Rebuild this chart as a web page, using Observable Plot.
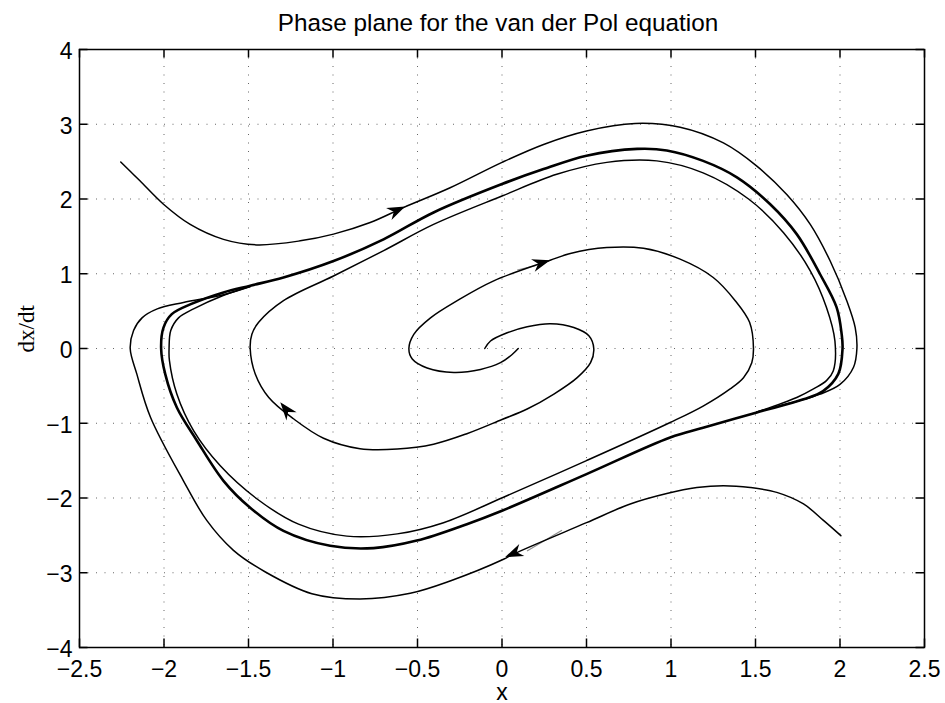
<!DOCTYPE html>
<html>
<head>
<meta charset="utf-8">
<script src="https://cdn.jsdelivr.net/npm/d3@7"></script>
<script src="https://cdn.jsdelivr.net/npm/@observablehq/plot@0.6"></script>
<style>
  html, body { margin: 0; padding: 0; background: #fff; }
</style>
</head>
<body>
<div id="chart"></div>
<script>
// Phase-plane trajectories of the van der Pol oscillator (x, dx/dt)

const titleText = "Phase plane for the van der Pol equation";
const xLabel = "x";
const yLabel = "dx/dt";

const xTicks = [-2.5, -2, -1.5, -1, -0.5, 0, 0.5, 1, 1.5, 2, 2.5];
const xTickLabels = ["−2.5", "−2", "−1.5", "−1", "−0.5", "0", "0.5", "1", "1.5", "2", "2.5"];
const yTicks = [-4, -3, -2, -1, 0, 1, 2, 3, 4];
const yTickLabels = ["−4", "−3", "−2", "−1", "0", "1", "2", "3", "4"];

// Spiral starting just left of the origin
const spiralLeft = [
  [-0.102, 0.0], [-0.068, 0.10], [0.031, 0.21], [0.149, 0.29], [0.287, 0.33],
  [0.425, 0.28], [0.514, 0.17], [0.543, 0.0], [0.524, -0.19], [0.445, -0.39],
  [0.307, -0.61], [0.149, -0.81], [0.0, -0.95], [-0.208, -1.14], [-0.405, -1.28],
  [-0.62, -1.345], [-0.84, -1.34], [-1.056, -1.20], [-1.234, -0.94], [-1.38, -0.655],
  [-1.46, -0.34], [-1.49, 0.0], [-1.48, 0.19], [-1.44, 0.35], [-1.293, 0.64],
  [-0.997, 0.97], [-0.70, 1.31], [-0.405, 1.66], [0.0, 2.04], [0.324, 2.33],
  [0.62, 2.49], [0.916, 2.51], [1.19, 2.35], [1.459, 2.0], [1.666, 1.55],
  [1.824, 1.04], [1.92, 0.55], [1.97, 0.10], [1.96, -0.30], [1.92, -0.43],
  [1.843, -0.54], [1.744, -0.655], [1.508, -0.85]
];

// Spiral starting just right of the origin
const spiralRight = [
  [0.096, 0.0], [0.06, -0.08], [-0.009, -0.19], [-0.127, -0.28], [-0.285, -0.32],
  [-0.443, -0.26], [-0.531, -0.14], [-0.551, 0.0], [-0.522, 0.19], [-0.423, 0.41],
  [-0.265, 0.64], [-0.049, 0.905], [0.285, 1.18], [0.404, 1.27], [0.62, 1.35],
  [0.837, 1.34], [1.054, 1.195], [1.25, 0.95], [1.38, 0.64], [1.465, 0.35],
  [1.488, 0.0], [1.478, -0.19], [1.429, -0.39], [1.35, -0.54], [1.19, -0.77],
  [0.995, -0.99], [0.50, -1.50], [0.009, -1.99], [-0.346, -2.33], [-0.62, -2.48],
  [-0.918, -2.51], [-1.204, -2.35], [-1.451, -2.01], [-1.667, -1.57], [-1.825, -1.10],
  [-1.924, -0.61], [-1.968, -0.16], [-1.97, 0.0], [-1.96, 0.24], [-1.914, 0.41],
  [-1.825, 0.53], [-1.65, 0.71], [-1.49, 0.83]
];

// Trajectory entering from the upper left
const outerUpper = [
  [-2.256, 2.496], [-2.20, 2.37], [-2.141, 2.24], [-2.003, 1.93], [-1.845, 1.66], [-1.648, 1.46],
  [-1.451, 1.386], [-1.194, 1.44], [-0.997, 1.53], [-0.78, 1.685], [-0.583, 1.885],
  [-0.307, 2.15], [0.0, 2.49], [0.246, 2.73], [0.50, 2.91], [0.788, 3.01],
  [1.054, 2.96], [1.31, 2.75], [1.508, 2.44], [1.685, 2.06], [1.824, 1.66],
  [1.942, 1.17], [2.04, 0.64], [2.09, 0.28], [2.10, 0.0], [2.08, -0.25],
  [2.00, -0.48], [1.883, -0.61], [1.725, -0.72], [1.508, -0.85]
];

// Trajectory entering from the lower right
const outerLower = [
  [2.005, -2.504], [1.902, -2.30], [1.784, -2.08], [1.626, -1.925], [1.469, -1.86],
  [1.31, -1.835], [1.153, -1.86], [0.975, -1.94], [0.759, -2.08], [0.50, -2.33],
  [0.068, -2.75], [0.009, -2.82], [-0.307, -3.11], [-0.543, -3.275], [-0.84, -3.35],
  [-1.125, -3.28], [-1.40, -2.99], [-1.589, -2.70], [-1.747, -2.30], [-1.885, -1.77],
  [-2.08, -0.92], [-2.161, -0.34], [-2.2, 0.0], [-2.18, 0.24], [-2.13, 0.41],
  [-2.04, 0.53], [-1.885, 0.615], [-1.648, 0.72], [-1.49, 0.83]
];

// Limit cycle that all trajectories settle onto
const limitCycle = [
  [-2.017, 0.0], [-2.003, 0.28], [-1.954, 0.46], [-1.845, 0.59], [-1.648, 0.75],
  [-1.49, 0.84], [-1.293, 0.95], [-0.997, 1.17], [-0.701, 1.46], [-0.405, 1.82],
  [0.0, 2.2], [0.246, 2.40], [0.50, 2.58], [0.80, 2.67], [0.975, 2.65],
  [1.19, 2.51], [1.39, 2.29], [1.587, 1.93], [1.744, 1.53], [1.883, 0.99],
  [1.98, 0.55], [2.01, 0.19], [2.015, 0.0], [1.99, -0.34], [1.90, -0.57],
  [1.784, -0.68], [1.508, -0.855], [1.19, -1.06], [0.995, -1.19], [0.50, -1.68],
  [0.0, -2.17], [-0.208, -2.35], [-0.504, -2.57], [-0.76, -2.67], [-1.017, -2.64],
  [-1.293, -2.44], [-1.49, -2.13], [-1.648, -1.77], [-1.806, -1.23], [-1.924, -0.79],
  [-1.993, -0.34]
];

// Direction arrows: tip position and a point just behind it on the curve
const arrowTipX = [-0.573, 0.285, -1.312, 0.019];
const arrowTipY = [1.90, 1.18, -0.72, -2.79];
const arrowFromX = [-0.78, 0.009, -1.234, 0.50];
const arrowFromY = [1.685, 0.995, -0.94, -2.33];

// Faint arrow shafts that sit just beside two of the curves
const shaftFromX = [0.09, 0.355];
const shaftFromY = [1.05, -2.43];
const shaftToX = [0.20, 0.148];
const shaftToY = [1.11, -2.71];

const W = 945, H = 703;
const mL = 79, mR = 21, mT = 49, mB = 56;
const plotW = W - mL - mR, plotH = H - mT - mB;
const xDomain = [-2.5, 2.5], yDomain = [-4, 4];
const tickLen = 8.5;

const toRows = (pts, name) => pts.map(([x, y]) => ({x, y, name}));
const trajectories = [
  ...toRows(spiralLeft, "spiralLeft"),
  ...toRows(spiralRight, "spiralRight"),
  ...toRows(outerUpper, "outerUpper"),
  ...toRows(outerLower, "outerLower")
];
const cycleRows = toRows(limitCycle, "cycle");
const shafts = shaftFromX.map((x, i) => ({x1: x, y1: shaftFromY[i], x2: shaftToX[i], y2: shaftToY[i]}));

// Screen-space direction of each arrowhead
const kx = plotW / (xDomain[1] - xDomain[0]);
const ky = plotH / (yDomain[1] - yDomain[0]);
const arrows = arrowTipX.map((x, i) => {
  const dx = (x - arrowFromX[i]) * kx;
  const dy = -(arrowTipY[i] - arrowFromY[i]) * ky;
  return {x, y: arrowTipY[i], angle: Math.atan2(dy, dx) * 180 / Math.PI};
});

// Notched arrowhead with its tip at the origin, pointing along +x
const arrowHead = {
  draw(context) {
    const L = 18, w = 6.5, n = 12.5;
    context.moveTo(0, 0);
    context.lineTo(-L, -w);
    context.lineTo(-n, 0);
    context.lineTo(-L, w);
    context.closePath();
  }
};

const gridX = xTicks.slice(1, -1);
const gridY = yTicks.slice(1, -1);
const sans = "'Liberation Sans', Arial, Helvetica, sans-serif";
const serif = "'Liberation Serif', 'DejaVu Serif', serif";

const chart = Plot.plot({
  width: W,
  height: H,
  marginLeft: mL,
  marginRight: mR,
  marginTop: mT,
  marginBottom: mB,
  style: {fontFamily: sans, fontSize: "23px", background: "#fff", color: "#000"},
  x: {domain: xDomain, axis: null},
  y: {domain: yDomain, axis: null},
  marks: [
    Plot.ruleX(gridX, {x: d => d, stroke: "#000", strokeOpacity: 0.6, strokeWidth: 1, strokeDasharray: "1,7.5"}),
    Plot.ruleY(gridY, {y: d => d, stroke: "#000", strokeOpacity: 0.6, strokeWidth: 1, strokeDasharray: "1,7.5"}),
    Plot.link(shafts, {x1: "x1", y1: "y1", x2: "x2", y2: "y2", stroke: "#000", strokeOpacity: 0.45, strokeWidth: 1.2}),
    Plot.line(cycleRows, {x: "x", y: "y", curve: "catmull-rom-closed", stroke: "#000", strokeWidth: 2.6}),
    Plot.line(trajectories, {x: "x", y: "y", z: "name", curve: "catmull-rom", stroke: "#000", strokeWidth: 1.5}),
    Plot.dot(arrows, {x: "x", y: "y", rotate: "angle", symbol: arrowHead, fill: "#000", stroke: "none"}),
    Plot.frame({stroke: "#000", strokeWidth: 1.5}),
    Plot.tickX(xTicks, {x: d => d, stroke: "#000", strokeWidth: 1.5, insetTop: plotH - tickLen}),
    Plot.tickX(xTicks, {x: d => d, stroke: "#000", strokeWidth: 1.5, insetBottom: plotH - tickLen}),
    Plot.tickY(yTicks, {y: d => d, stroke: "#000", strokeWidth: 1.5, insetRight: plotW - tickLen}),
    Plot.tickY(yTicks, {y: d => d, stroke: "#000", strokeWidth: 1.5, insetLeft: plotW - tickLen}),
    Plot.text(xTicks, {x: d => d, text: (d, i) => xTickLabels[i], frameAnchor: "bottom", lineAnchor: "bottom", dy: 29, fontSize: 23, fill: "#000"}),
    Plot.text(yTicks, {y: d => d, text: (d, i) => yTickLabels[i], frameAnchor: "left", lineAnchor: "bottom", dx: -7, dy: 9.3, textAnchor: "end", fontSize: 23, fill: "#000"}),
    Plot.text([titleText], {text: d => d, frameAnchor: "top", lineAnchor: "bottom", dx: -4, dy: -19, fontSize: 24.3, fill: "#000"}),
    Plot.text([xLabel], {text: d => d, frameAnchor: "bottom", lineAnchor: "bottom", dy: 52, fontSize: 23, fill: "#000"}),
    Plot.text([yLabel], {text: d => d, frameAnchor: "left", lineAnchor: "bottom", dx: -46, dy: 4, rotate: -90, fontSize: 23, fontFamily: serif, fill: "#000"})
  ]
});

document.getElementById("chart").appendChild(chart);
</script>
</body>
</html>
